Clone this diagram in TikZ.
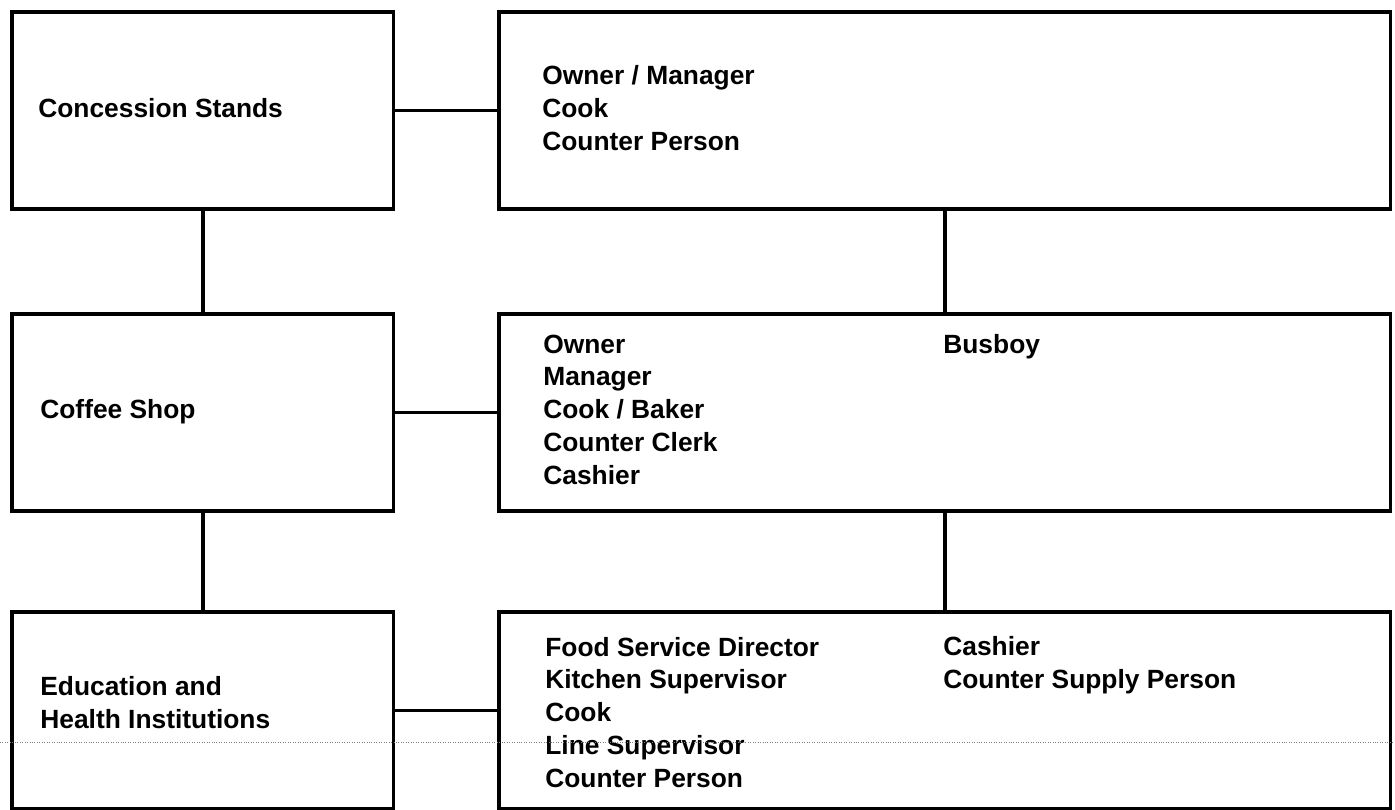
\documentclass[tikz,border=0pt]{standalone}
\usepackage{fontspec}
\setmainfont{Liberation Sans}
\usepackage{tikz}

\tikzset{
  unitbox/.style={draw, line width=2pt, inner sep=0pt, anchor=north west, minimum height=3.95cm},
  leftbox/.style={unitbox, minimum width=7.64cm},
  rightbox/.style={unitbox, minimum width=17.84cm},
  jobs/.style={anchor=base west, inner sep=0pt, align=left, font=\fontsize{15}{18.6}\selectfont\bfseries},
  link/.style={line width=2.1pt}
}

\begin{document}
\begin{tikzpicture}[x=0.02cm, y=-0.02cm]
\useasboundingbox (0,0) rectangle (1395,809);

%%%%%% Left column (text nodes sit on the baseline of their last line)
\node [leftbox] (cs) at (10,10) {}; \node [leftbox] (cf) at (10,312) {}; \node [leftbox] (ed) at (10,610) {};

\node [jobs] (csT) at (38,117) {Concession Stands}; \node [jobs] (cfT) at (40,418) {Coffee Shop};
\node [jobs] (edT) at (40,728) {Education and\\Health Institutions};

%%%%%% Right column
\node [rightbox] (r1) at (497,10) {}; \node [rightbox] (r2) at (497,312) {}; \node [rightbox] (r3) at (497,610) {};

\node [jobs] (r1A) at (542,150) {Owner / Manager\\Cook\\Counter Person};

\node [jobs] (r2A) at (543,484) {Owner\\Manager\\Cook / Baker\\Counter Clerk\\Cashier}; \node [jobs] (r2B) at (943,353) {Busboy};

\node [jobs] (r3A) at (545,787) {Food Service Director\\Kitchen Supervisor\\Cook\\Line Supervisor\\Counter Person};
\node [jobs] (r3B) at (943,688) {Cashier\\Counter Supply Person};

%%%%%% Links
\draw [link] (cs.south)--(cf.north); \draw [link] (cf.south)--(ed.north);
\draw [link] (r1.south)--(r2.north); \draw [link] (r2.south)--(r3.north);
\draw [link] (cs.east)--(r1.west); \draw [link] (cf.east)--(r2.west); \draw [link] (ed.east)--(r3.west);

%%%%%% Fold mark of the scan
\draw [densely dotted, gray, line width=0.4pt] (0,742)--(1395,742);

\end{tikzpicture}
\end{document}
